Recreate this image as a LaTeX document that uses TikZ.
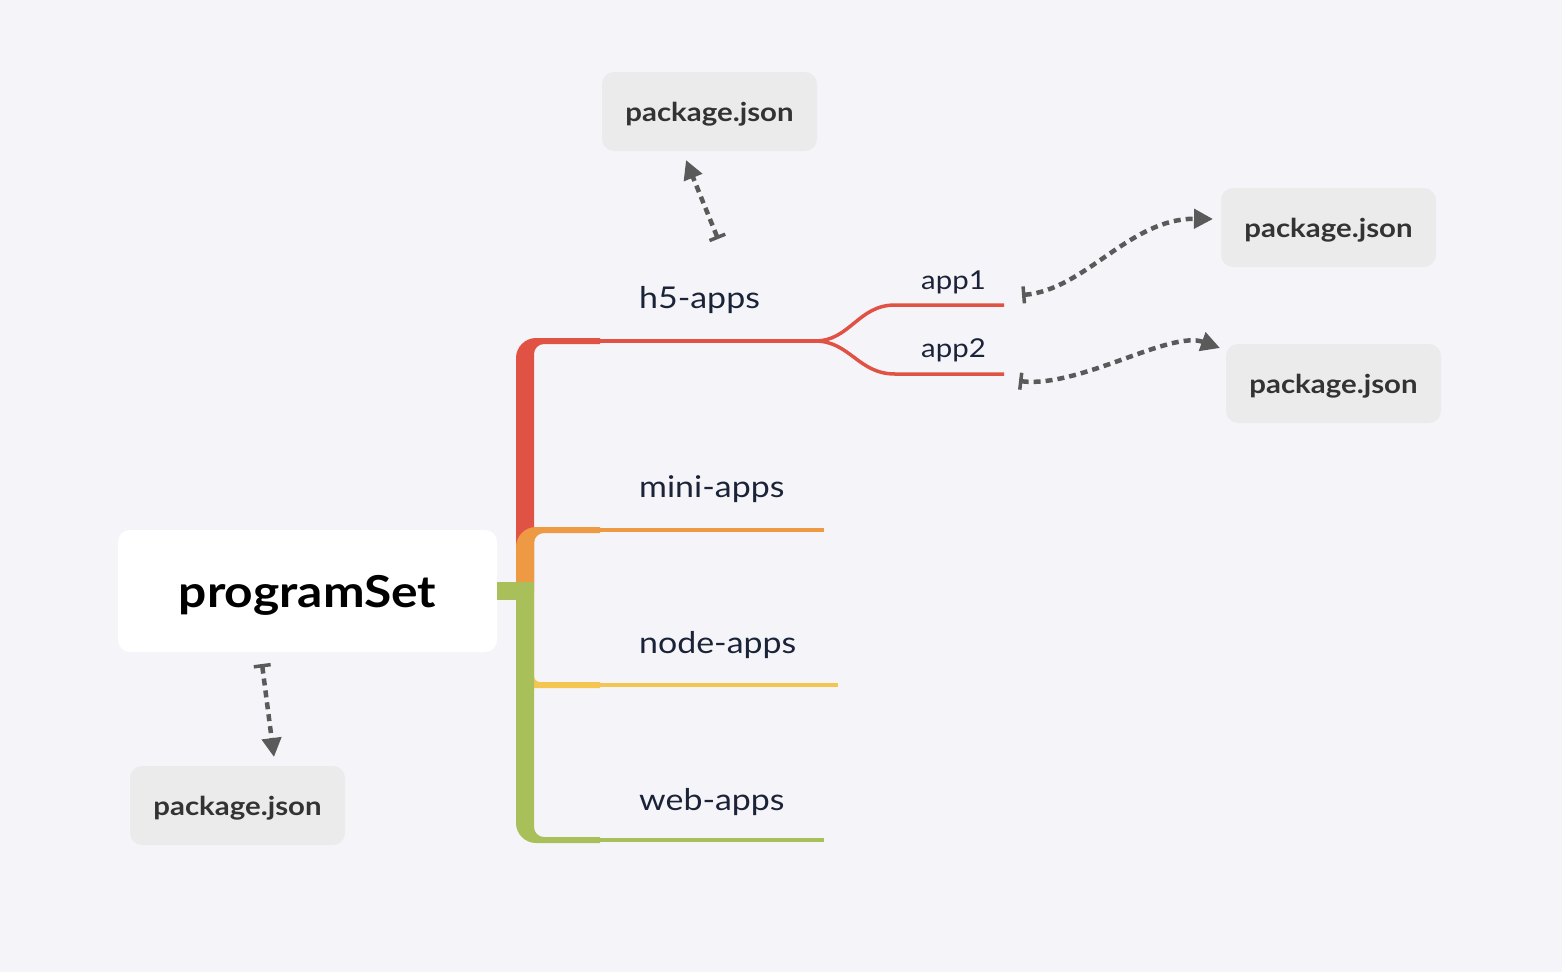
\documentclass[tikz,border=0pt]{standalone}
\usepackage{fontspec}
\setmainfont{Lato}[FakeStretch=1.13]
\usetikzlibrary{arrows.meta}
\definecolor{bg}{HTML}{F5F5F9}
\definecolor{boxgray}{HTML}{EBEBEB}
\definecolor{pkgtext}{HTML}{333333}
\definecolor{navy}{HTML}{1B2338}
\definecolor{cred}{HTML}{E05243}
\definecolor{corange}{HTML}{EE9944}
\definecolor{cyellow}{HTML}{F5C551}
\definecolor{cgreen}{HTML}{A8BF5A}
\definecolor{arrowgray}{HTML}{5A5A5A}
\begin{document}
\begin{tikzpicture}[x=1pt,y=-1pt,
  pkg/.style={fill=boxgray, rounded corners=12pt, minimum width=215pt, minimum height=79pt, inner sep=0pt,
    text depth=0pt, text=pkgtext, font=\fontsize{26}{30}\selectfont\bfseries},
  rootbox/.style={fill=white, rounded corners=12pt, minimum width=379pt, minimum height=122pt, inner sep=0pt,
    text depth=0pt, text=black, font=\fontsize{44}{50}\selectfont\bfseries},
  lbl/.style={anchor=base west, inner sep=0pt, text=navy, font=\fontsize{30}{34}\selectfont},
  sublbl/.style={anchor=base west, inner sep=0pt, text=navy, font=\fontsize{26}{30}\selectfont},
  thin/.style={line width=3.5pt},
  rel/.style={draw=arrowgray, line width=4.5pt, dash pattern=on 7pt off 5pt,
    {Bar[width=17pt,line width=3.5pt]}-{Triangle[length=19pt,width=19pt]}}
]
\fill[bg] (0,0) rectangle (1562,972);
\useasboundingbox (0,0) rectangle (1562,972);

% root
\node[rootbox] (root) at (307.5,591) {programSet};

% branch shapes
\fill[cred] (516,591) -- (516,358) .. controls (516,347) and (525,338) .. (536,338) -- (600,338) -- (600,344) -- (544,344) .. controls (538.5,344) and (534,348.5) .. (534,354) -- (534,591) -- cycle;
\fill[cyellow] (516,591) -- (516,688) -- (600,688) -- (600,682) -- (540,682) .. controls (536.7,682) and (534,679.3) .. (534,676) -- (534,591) -- cycle;
\fill[corange] (516,582) -- (516,547) .. controls (516,536) and (525,527) .. (536,527) -- (600,527) -- (600,533) -- (544,533) .. controls (538.5,533) and (534,537.5) .. (534,543) -- (534,582) -- cycle;
\fill[cgreen] (516,582) -- (516,823) .. controls (516,834) and (525,843) .. (536,843) -- (600,843) -- (600,837) -- (544,837) .. controls (538.5,837) and (534,832.5) .. (534,827) -- (534,582) -- cycle;
\fill[cgreen] (root.east |- 0,582) rectangle (516,600);

% thin lines
\draw[thin, cred] (598,341) -- (815,341);
\draw[thin, cred] (815,341) .. controls (850,341) and (858,305) .. (895,305) -- (1004,305);
\draw[thin, cred] (815,341) .. controls (850,341) and (858,374) .. (895,374) -- (1004,374);
\draw[thin, corange] (598,530) -- (824,530);
\draw[thin, cyellow] (598,685) -- (838,685);
\draw[thin, cgreen] (598,840) -- (824,840);

% labels
\node[lbl] (h5) at (639,308) {h5-apps};
\node[lbl] (mini) at (639,497) {mini-apps};
\node[lbl] (nodeapps) at (639,653) {node-apps};
\node[lbl] (web) at (639,810) {web-apps};
\node[sublbl] (app1) at (921,289) {app1};
\node[sublbl] (app2) at (921,357) {app2};

% package.json boxes
\node[pkg] (p1) at (709.5,111.5) {package.json};
\node[pkg] (p2) at (1328.5,227.5) {package.json};
\node[pkg] (p3) at (1333.5,383.5) {package.json};
\node[pkg] (p4) at (237.5,805.5) {package.json};

% arrow end points
\coordinate (a1s) at (718,239);
\coordinate (a1e) at (686,160);
\coordinate (a2s) at (1022,295);
\coordinate (a2e) at (1213,219);
\coordinate (a3s) at (1019,381);
\coordinate (a3e) at (1220,348);
\coordinate (a4s) at (262,664);
\coordinate (a4e) at (274,757);

\draw[rel] (a1s) -- (a1e);
\draw[rel] (a2s) .. controls (1085,290) and (1130,218) .. (a2e);
\draw[rel] (a3s) .. controls (1080,388) and (1170,330) .. (a3e);
\draw[rel] (a4s) -- (a4e);
\end{tikzpicture}
\end{document}
